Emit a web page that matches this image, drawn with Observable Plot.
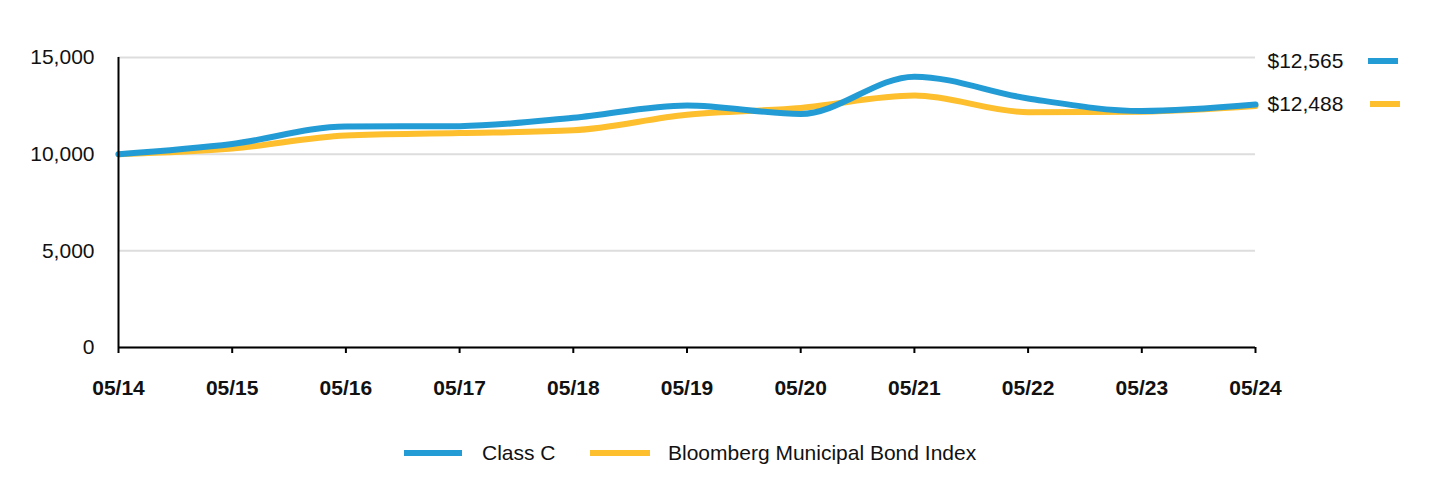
<!DOCTYPE html>
<html>
<head>
<meta charset="utf-8">
<script src="https://cdn.jsdelivr.net/npm/d3@7"></script>
<script src="https://cdn.jsdelivr.net/npm/@observablehq/plot@0.6"></script>
<style>
  html, body { margin: 0; padding: 0; background: #fff; }
  body { width: 1440px; height: 492px; position: relative; overflow: hidden; font-family: "Liberation Sans", Arial, sans-serif; }
  #chart { position: absolute; left: 0; top: 0; }
  .sw { position: absolute; height: 6px; }
  .lg { position: absolute; font-size: 21px; color: #111; line-height: 24px; white-space: nowrap; }
</style>
</head>
<body>
<div id="chart"></div>
<script>
const periods = ["05/14","05/15","05/16","05/17","05/18","05/19","05/20","05/21","05/22","05/23","05/24"];
const classC = [10000, 10530, 11430, 11450, 11880, 12520, 12080, 14010, 12880, 12230, 12565];
const bloomberg = [10000, 10290, 10970, 11090, 11240, 12040, 12390, 13030, 12170, 12200, 12488];
const seriesNames = ["Class C", "Bloomberg Municipal Bond Index"];
const colors = ["#239cd6", "#fdbf2d"];
const yTicks = [0, 5000, 10000, 15000];

const rows = [];
periods.forEach((p, i) => rows.push({period: p, value: bloomberg[i], series: seriesNames[1]}));
periods.forEach((p, i) => rows.push({period: p, value: classC[i], series: seriesNames[0]}));

const fmt = d3.format(",");
const plot = Plot.plot({
  width: 1440,
  height: 420,
  marginLeft: 118,
  marginRight: 185,
  marginTop: 57,
  marginBottom: 73,
  style: {fontFamily: "'Liberation Sans', Arial, sans-serif", fontSize: "21px", color: "#000", background: "transparent", overflow: "visible"},
  x: {type: "point", domain: periods, padding: 0, round: false, label: null},
  y: {domain: [0, 15000], label: null},
  color: {domain: seriesNames, range: colors},
  marks: [
    Plot.gridY(yTicks, {stroke: "#dddddd", strokeOpacity: 1, strokeWidth: 2}),
    Plot.axisY(yTicks, {tickSize: 0, tickPadding: 24, tickFormat: d => fmt(d), fontSize: 21, fill: "#111"}),
    Plot.axisX({tickSize: 6, tickPadding: 27, fontSize: 21, fontWeight: "bold", stroke: "#000", strokeWidth: 2, fill: "#111"}),
    Plot.line(rows, {x: "period", y: "value", z: "series", stroke: "series", strokeWidth: 6, curve: "monotone-x"}),
    Plot.ruleX([periods[0]], {stroke: "#000", strokeWidth: 2}),
    Plot.ruleY([0], {stroke: "#000", strokeWidth: 2}),
    Plot.text([classC[classC.length - 1]], {text: d => "$" + fmt(d), frameAnchor: "top-right", lineAnchor: "middle", textAnchor: "start", dx: 12, dy: 4, fontSize: 21, fill: "#111"}),
    Plot.text([bloomberg[bloomberg.length - 1]], {text: d => "$" + fmt(d), frameAnchor: "top-right", lineAnchor: "middle", textAnchor: "start", dx: 12, dy: 47, fontSize: 21, fill: "#111"})
  ]
});
document.getElementById("chart").appendChild(plot);

// end-label swatches and bottom legend
const body = document.body;
function addSwatch(left, top, width, color) {
  const d = document.createElement("div");
  d.className = "sw";
  d.style.left = left + "px"; d.style.top = top + "px"; d.style.width = width + "px"; d.style.background = color;
  body.appendChild(d);
}
function addLabel(left, top, text) {
  const d = document.createElement("div");
  d.className = "lg";
  d.style.left = left + "px"; d.style.top = top + "px";
  d.textContent = text;
  body.appendChild(d);
}
addSwatch(1368, 58, 30, colors[0]);
addSwatch(1370, 101, 30, colors[1]);
addSwatch(404, 450, 58, colors[0]);
addLabel(482, 441, seriesNames[0]);
addSwatch(590, 450, 60, colors[1]);
addLabel(668, 441, seriesNames[1]);
</script>
</body>
</html>
